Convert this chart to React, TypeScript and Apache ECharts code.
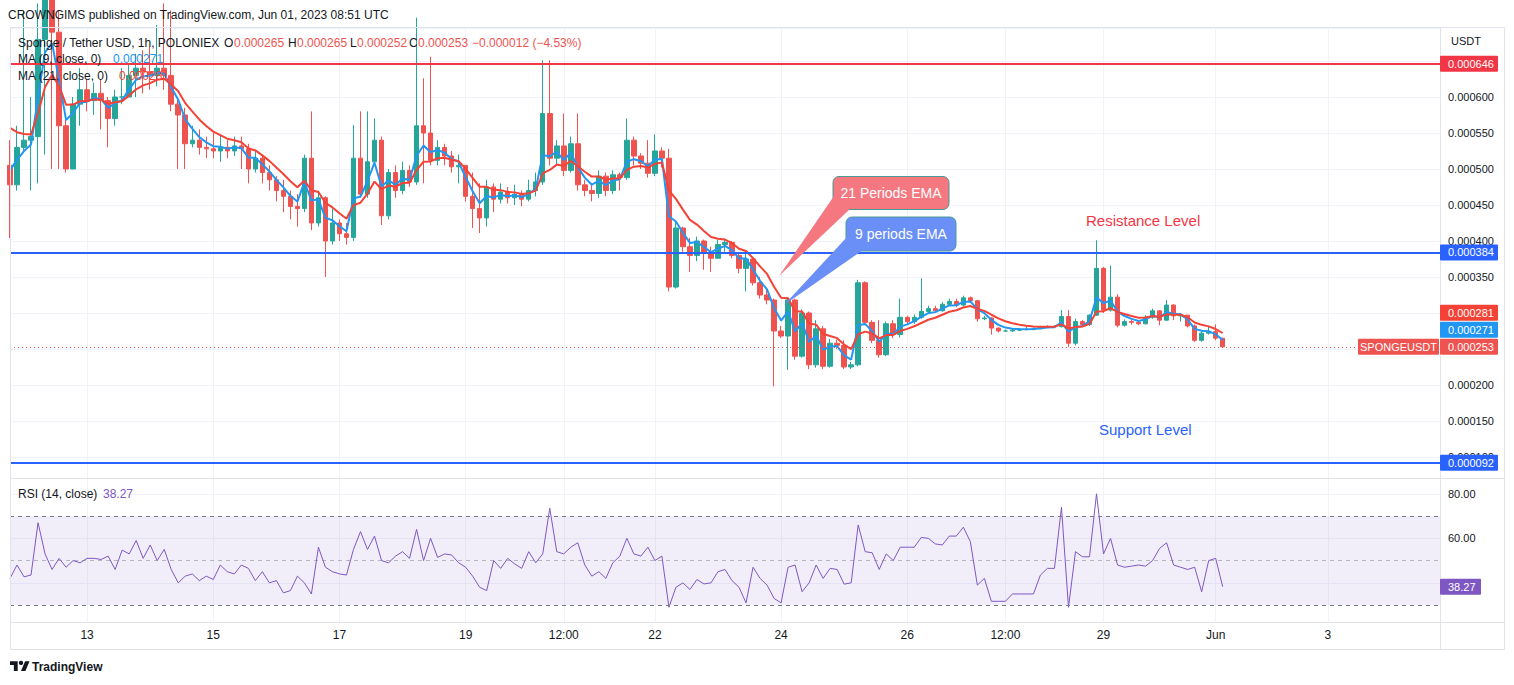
import React, { useEffect, useRef } from 'react';
import * as echarts from 'echarts';

// ---------- data (prices in units of 0.000001 USDT) ----------
const FIRST_OPEN = 505;
const closes = [
  478, 530, 540, 545, 680, 740, 690, 560, 500, 590,
  610, 595, 605, 595, 570, 600, 600, 630, 640, 635,
  630, 640, 630, 590, 575, 535, 540, 530, 528, 525,
  530, 525, 532, 528, 500, 515, 495, 485, 470, 462,
  448, 445, 515, 425, 460, 400, 425, 410, 405, 515,
  465, 510, 540, 435, 495, 470, 498, 482, 560, 550,
  512, 530, 518, 503, 505, 462, 445, 432, 475, 458,
  468, 460, 465, 458, 470, 482, 577, 515, 532, 498,
  535, 478, 470, 466, 490, 470, 492, 488, 540, 518,
  508, 494, 525, 515, 336, 418, 392, 380, 400, 383,
  376, 395, 398, 380, 362, 375, 342, 325, 318, 275,
  268, 318, 240, 300, 228, 278, 226, 258, 255, 225,
  228, 342, 287, 262, 242, 285, 270, 294, 288, 294,
  302, 306, 303, 312, 316, 311, 321, 317, 292, 293,
  279, 275, 275, 276, 277, 277, 278, 280, 281, 281,
  295, 258, 288, 284, 297, 362, 304, 322, 283, 288,
  287, 285, 294, 303, 290, 311, 296, 297, 282, 262,
  272, 274, 265, 253,
];
const highs = [
  540, 560, 720, 600, 730, 760, 750, 720, 570, 600,
  640, 625, 620, 625, 600, 610, 640, 645, 660, 665,
  670, 700, 730, 720, 600, 585, 560, 555, 545, 550,
  548, 540, 545, 545, 535, 525, 520, 505, 490, 485,
  470, 465, 520, 580, 470, 462, 445, 430, 425, 561,
  580, 580, 570, 545, 500, 505, 510, 505, 710, 626,
  656, 540, 535, 525, 520, 505, 495, 480, 485, 480,
  480, 475, 478, 470, 485, 495, 651, 651, 540, 577,
  545, 577, 485, 478, 498, 495, 498, 495, 570, 545,
  522, 540, 548, 530, 528, 427, 420, 404, 406, 402,
  392, 402, 403, 400, 384, 387, 378, 350, 335, 320,
  282, 322, 320, 305, 302, 290, 282, 264, 263, 262,
  232, 346, 344, 290, 290, 288, 290, 320, 296, 298,
  348, 310, 310, 315, 320, 320, 324, 323, 318, 296,
  294, 280, 277, 278, 279, 283, 280, 282, 283, 283,
  304, 304, 292, 290, 298, 401, 364, 366, 326, 291,
  291, 290, 297, 306, 304, 318, 312, 300, 297, 284,
  275, 282, 284, 265,
];
const lows = [
  404, 470, 525, 470, 480, 520, 500, 500, 495, 500,
  560, 580, 575, 555, 530, 560, 590, 600, 600, 605,
  610, 615, 610, 580, 500, 500, 530, 520, 515, 515,
  510, 515, 518, 500, 480, 495, 480, 470, 455, 440,
  430, 420, 440, 415, 420, 350, 395, 400, 395, 400,
  460, 460, 505, 422, 430, 460, 465, 475, 478, 480,
  505, 505, 505, 495, 480, 455, 418, 411, 420, 440,
  452, 452, 450, 448, 455, 462, 478, 505, 505, 490,
  495, 470, 462, 455, 460, 462, 465, 470, 485, 505,
  500, 488, 490, 502, 330, 334, 385, 357, 372, 360,
  357, 375, 385, 376, 355, 330, 338, 320, 312, 198,
  265, 221, 235, 238, 222, 224, 222, 224, 250, 222,
  222, 226, 283, 258, 238, 240, 265, 266, 284, 285,
  292, 299, 300, 302, 310, 308, 309, 314, 288, 290,
  270, 273, 274, 274, 275, 276, 276, 278, 279, 280,
  280, 253, 255, 282, 282, 296, 300, 302, 280, 281,
  284, 283, 284, 292, 283, 289, 290, 288, 280, 260,
  260, 270, 262, 252,
];
const rsi14 = [
  42, 48, 42.7, 43.5, 67, 53, 46, 51, 47, 50,
  49, 51, 51, 50.5, 52, 46, 54.7, 53, 59, 51,
  57, 50, 55, 46, 40, 43, 44, 41, 43, 41.5,
  48, 45, 44, 48, 46.5, 41, 45, 40, 41, 35.5,
  36.5, 43, 40, 35, 56, 47, 45, 44, 43.5, 55,
  63, 55, 61, 50, 49, 52, 54, 51, 64, 50,
  60, 51.4, 53, 52.5, 49, 47, 43, 38, 36.5, 50,
  46.5, 51, 48.5, 46.5, 54, 49, 53, 73.5, 54, 53,
  56, 58, 48, 43, 45, 42, 49, 52, 60, 53,
  52, 56, 50, 52, 29, 38, 40, 37, 41.5, 39.5,
  40, 45, 46, 41, 38, 31, 47, 42, 39, 33,
  31, 47, 48, 36, 40, 48, 42, 46.5, 46, 39.4,
  40, 66, 54, 53.5, 46, 53, 50, 56, 56, 56,
  60.4, 60, 57.5, 57, 61, 61, 65, 58.5, 39, 42,
  31.7, 31.7, 31.7, 35, 35, 35, 35, 43.5, 46.5, 46.5,
  74, 29, 54, 51.7, 51.7, 80, 53, 60, 48, 47,
  47.5, 48, 47.5, 50, 55.5, 58, 48, 47, 46, 47,
  36, 50, 51, 38.27,
];
const timeLabelIndex = [11, 29, 47, 65, 79, 92, 110, 128, 142, 156, 172, 188];
const timeLabelText = ['13', '15', '17', '19', '12:00', '22', '24', '26', '12:00', '29', 'Jun', '3'];
const levelValues = [646, 384, 92]; // resistance (red), resistance (blue), support (blue)
const lastPrice = 253;
const maPeriods = [9, 21];
const maSeeds = [515, 580];
const maLegendValues = [271, 281];
const ohlcLegend = [265, 265, 252, 253];
const changeText = '\u22120.000012 (\u22124.53%)';
const rsiLast = 38.27;
// axis ticks that sit fully under a price tag on the reference and are not drawn
const hiddenPriceTicks = [650, 300, 250];
const hiddenRsiTicks = [40];

// ---------- layout ----------
const SLOTS = 205;
const HOURS_PER_BAR = 2.66;
const LEFT = 10;
const AXIS_X = 1440;
const PRICE_TOP = 28;
const PRICE_H = 450;
const PRICE_MIN = 70.8;
const PRICE_MAX = 695.8;
const RSI_TOP = 478;
const RSI_H = 144;
const RSI_MIN = 22.4;
const RSI_MAX = 87.1;
const FONT = '"Liberation Sans", Arial, sans-serif';
const INK = '#131722';
const UP = '#26a69a';
const DOWN = '#ef5350';

const py = (v: number) => PRICE_TOP + ((PRICE_MAX - v) / (PRICE_MAX - PRICE_MIN)) * PRICE_H;
const ry = (v: number) => RSI_TOP + ((RSI_MAX - v) / (RSI_MAX - RSI_MIN)) * RSI_H;
const fmtP = (v: number) => (v / 1e6).toFixed(6);

function ema(values: number[], period: number, seed: number) {
  const a = 1 - Math.pow(1 - 2 / (period + 1), HOURS_PER_BAR);
  let e = seed;
  return values.map((v) => (e = e + a * (v - e)));
}

function txt(x: number, y: number, s: string, color = INK, size = 12, extra: any = {}, z = 120) {
  return {
    type: 'text',
    x,
    y,
    z,
    silent: true,
    style: {
      text: s,
      fill: color,
      font: `${extra.weight || 'normal'} ${size}px ${FONT}`,
      textAlign: extra.align || 'left',
      align: extra.align || 'left',
      textVerticalAlign: 'middle',
      verticalAlign: 'middle',
    },
  };
}

function tag(y: number, label: string, bg: string, x = AXIS_X, w = 58) {
  return [
    { type: 'rect', z: 115, silent: true, shape: { x, y: y - 8, width: w, height: 16, r: 1 }, style: { fill: bg } },
    txt(x + 8, y, label, '#ffffff', 11, {}, 116),
  ];
}

export default function App() {
  const ref = useRef<HTMLDivElement>(null);

  useEffect(() => {
    document.body.style.margin = '0';
    const el = ref.current as HTMLDivElement;
    echarts.graphic.registerShape(
      'tvLogo',
      echarts.graphic.extendPath('M14 22H7V11H0V4h14v18zM28 22h-8l7.5-18h8L28 22z', {}) as any
    );
    const chart = echarts.init(el, null, { renderer: 'svg' });

    const cats = Array.from({ length: SLOTS }, (_, i) => String(i));
    const candles = closes.map((c, i) => {
      const o = i === 0 ? FIRST_OPEN : closes[i - 1];
      return [o, c, Math.min(lows[i], o, c), Math.max(highs[i], o, c)];
    });
    const ma9 = ema(closes, maPeriods[0], maSeeds[0]);
    const ma21 = ema(closes, maPeriods[1], maSeeds[1]);
    const gridSet = new Set(timeLabelIndex);
    const labelMap: Record<string, string> = {};
    timeLabelIndex.forEach((idx, k) => (labelMap[String(idx)] = timeLabelText[k]));

    // price tags on the right axis, stacked like TradingView
    const yLast = py(lastPrice);
    const y271 = Math.min(py(maLegendValues[0]), yLast - 17);
    const y281 = Math.min(py(maLegendValues[1]), y271 - 17);

    const graphics: any[] = [
      txt(8, 15, 'CROWNGIMS published on TradingView.com, Jun 01, 2023 08:51 UTC', INK, 12),
      // frame
      { type: 'rect', z: 90, silent: true, shape: { x: 10.5, y: 27.5, width: 1494, height: 622 }, style: { fill: 'none', stroke: '#e0e3eb', lineWidth: 1 } },
      { type: 'line', z: 90, silent: true, shape: { x1: AXIS_X + 0.5, y1: 27.5, x2: AXIS_X + 0.5, y2: 649.5 }, style: { stroke: '#e0e3eb', lineWidth: 1 } },
      { type: 'line', z: 90, silent: true, shape: { x1: 10, y1: 478.5, x2: 1504, y2: 478.5 }, style: { stroke: '#e0e3eb', lineWidth: 1 } },
      { type: 'line', z: 90, silent: true, shape: { x1: 10, y1: 622.5, x2: 1504, y2: 622.5 }, style: { stroke: '#e0e3eb', lineWidth: 1 } },
      // legend
      txt(18, 42.5, 'Sponge / Tether USD, 1h, POLONIEX', INK, 12),
      txt(224, 42.5, 'O', INK, 12),
      txt(234, 42.5, fmtP(ohlcLegend[0]), DOWN, 12),
      txt(288, 42.5, 'H', INK, 12),
      txt(297, 42.5, fmtP(ohlcLegend[1]), DOWN, 12),
      txt(350, 42.5, 'L', INK, 12),
      txt(357, 42.5, fmtP(ohlcLegend[2]), DOWN, 12),
      txt(409, 42.5, 'C', INK, 12),
      txt(418, 42.5, fmtP(ohlcLegend[3]), DOWN, 12),
      txt(472, 42.5, changeText, DOWN, 12),
      txt(18, 59, 'MA (9, close, 0)', INK, 12),
      txt(113, 59, fmtP(maLegendValues[0]), '#2196f3', 12),
      txt(18, 76, 'MA (21, close, 0)', INK, 12),
      txt(119, 76, fmtP(maLegendValues[1]), '#f44336', 12),
      txt(1451, 41, 'USDT', INK, 11),
      // axis tags
      ...tag(py(levelValues[0]), fmtP(levelValues[0]), '#f23645'),
      ...tag(py(levelValues[1]), fmtP(levelValues[1]), '#2962ff'),
      ...tag(py(levelValues[2]), fmtP(levelValues[2]), '#2962ff'),
      ...tag(y281, fmtP(maLegendValues[1]), '#f44336'),
      ...tag(y271, fmtP(maLegendValues[0]), '#2196f3'),
      ...tag(yLast, fmtP(lastPrice), DOWN),
      { type: 'rect', z: 115, silent: true, shape: { x: 1358, y: yLast - 8, width: 81, height: 16, r: 1 }, style: { fill: DOWN } },
      txt(1398.5, yLast, 'SPONGEUSDT', '#ffffff', 11, { align: 'center' }, 116),
      // RSI legend and tag
      txt(18, 494, 'RSI (14, close)', INK, 12),
      txt(103, 494, rsiLast.toFixed(2), '#7e57c2', 12),
      { type: 'rect', z: 115, silent: true, shape: { x: AXIS_X, y: ry(rsiLast) - 8, width: 41, height: 16, r: 1 }, style: { fill: '#7e57c2' } },
      txt(AXIS_X + 8, ry(rsiLast), rsiLast.toFixed(2), '#ffffff', 11, {}, 116),
      // callouts
      { type: 'rect', z: 130, silent: true, shape: { x: 833, y: 176.5, width: 116, height: 33, r: 6 }, style: { fill: '#f5777f', stroke: '#4a9a94', lineWidth: 1 } },
      { type: 'polygon', z: 131, silent: true, shape: { points: [[834, 196], [850, 209], [779, 276]] }, style: { fill: '#f5777f' } },
      txt(891, 193, '21 Periods EMA', '#ffffff', 14, { align: 'center' }, 132),
      { type: 'rect', z: 133, silent: true, shape: { x: 846, y: 217, width: 110, height: 34, r: 6 }, style: { fill: '#6a8ff7', stroke: '#4a9a94', lineWidth: 1 } },
      { type: 'polygon', z: 134, silent: true, shape: { points: [[847, 237], [863, 250], [784, 305]] }, style: { fill: '#6a8ff7' } },
      txt(901, 234, '9 periods EMA', '#ffffff', 14, { align: 'center' }, 135),
      txt(1086, 220.5, 'Resistance Level', '#f23645', 15),
      txt(1099, 429.5, 'Support Level', '#2962ff', 15),
      // TradingView logo
      { type: 'tvLogo', z: 120, silent: true, x: 10, y: 659, scaleX: 0.55, scaleY: 0.55, style: { fill: INK } },
      { type: 'circle', z: 120, silent: true, shape: { cx: 21, cy: 662.9, r: 2.2 }, style: { fill: INK } },
      txt(32, 667, 'TradingView', INK, 12, { weight: 'bold' }),
    ];

    const option: any = {
      animation: false,
      backgroundColor: '#ffffff',
      textStyle: { fontFamily: FONT },
      grid: [
        { left: LEFT, right: 1514 - AXIS_X, top: PRICE_TOP, height: PRICE_H, containLabel: false },
        { left: LEFT, right: 1514 - AXIS_X, top: RSI_TOP, height: RSI_H, containLabel: false },
      ],
      xAxis: [
        {
          type: 'category', gridIndex: 0, data: cats, boundaryGap: false,
          axisLine: { show: false }, axisTick: { show: false }, axisLabel: { show: false },
          splitLine: { show: true, interval: (i: number) => gridSet.has(i), lineStyle: { color: '#f0f3fa', width: 1 } },
        },
        {
          type: 'category', gridIndex: 1, data: cats, boundaryGap: false,
          axisLine: { show: false }, axisTick: { show: false },
          axisLabel: {
            show: true, interval: (i: number) => gridSet.has(i),
            formatter: (v: string) => labelMap[v] || '',
            color: INK, fontSize: 12, fontFamily: FONT, margin: 7,
          },
          splitLine: { show: true, interval: (i: number) => gridSet.has(i), lineStyle: { color: '#f0f3fa', width: 1 } },
        },
      ],
      yAxis: [
        {
          type: 'value', gridIndex: 0, position: 'right', min: PRICE_MIN, max: PRICE_MAX, splitNumber: 13,
          axisLine: { show: false }, axisTick: { show: false },
          axisLabel: {
            color: INK, fontSize: 11, fontFamily: FONT, margin: 8, showMinLabel: false, showMaxLabel: false,
            formatter: (v: number) => (hiddenPriceTicks.some((h) => Math.abs(h - v) < 0.01) ? '' : fmtP(v)),
          },
          splitLine: { show: true, lineStyle: { color: '#f0f3fa', width: 1 } },
        },
        {
          type: 'value', gridIndex: 1, position: 'right', min: RSI_MIN, max: RSI_MAX, splitNumber: 3,
          axisLine: { show: false }, axisTick: { show: false },
          axisLabel: {
            color: INK, fontSize: 11, fontFamily: FONT, margin: 8, showMinLabel: false, showMaxLabel: false,
            formatter: (v: number) => (hiddenRsiTicks.some((h) => Math.abs(h - v) < 0.01) ? '' : v.toFixed(2)),
          },
          splitLine: { show: true, lineStyle: { color: '#f0f3fa', width: 1 } },
        },
      ],
      series: [
        {
          type: 'candlestick', xAxisIndex: 0, yAxisIndex: 0, data: candles, barWidth: 5, clip: true,
          itemStyle: { color: UP, color0: DOWN, borderColor: UP, borderColor0: DOWN, borderWidth: 1 },
          markLine: {
            silent: true, symbol: ['none', 'none'], label: { show: false }, animation: false,
            data: [
              { yAxis: levelValues[0], lineStyle: { color: '#f23645', width: 2, type: 'solid' } },
              { yAxis: levelValues[1], lineStyle: { color: '#2962ff', width: 2, type: 'solid' } },
              { yAxis: levelValues[2], lineStyle: { color: '#2962ff', width: 2, type: 'solid' } },
              { yAxis: lastPrice, lineStyle: { color: DOWN, width: 1, type: [1, 3] } },
            ],
          },
        },
        {
          type: 'line', xAxisIndex: 0, yAxisIndex: 0, data: ma9, symbol: 'none', z: 3, clip: true,
          lineStyle: { color: '#2196f3', width: 2 },
        },
        {
          type: 'line', xAxisIndex: 0, yAxisIndex: 0, data: ma21, symbol: 'none', z: 3, clip: true,
          lineStyle: { color: '#f44336', width: 2 },
        },
        {
          type: 'line', xAxisIndex: 1, yAxisIndex: 1, data: rsi14, symbol: 'none', z: 4,
          lineStyle: { color: '#7e57c2', width: 1 },
          markArea: {
            silent: true, itemStyle: { color: 'rgba(126,87,194,0.1)' },
            data: [[{ yAxis: 30 }, { yAxis: 70 }]],
          },
          markLine: {
            silent: true, symbol: ['none', 'none'], label: { show: false }, animation: false,
            data: [
              { yAxis: 70, lineStyle: { color: '#787b86', width: 1, type: [4, 4] } },
              { yAxis: 50, lineStyle: { color: 'rgba(120,123,134,0.5)', width: 1, type: [4, 4] } },
              { yAxis: 30, lineStyle: { color: '#787b86', width: 1, type: [4, 4] } },
            ],
          },
        },
      ],
      graphic: graphics,
    };

    chart.setOption(option);
    return () => chart.dispose();
  }, []);

  return (
    <div
      ref={ref}
      style={{ position: 'fixed', left: 0, top: 0, width: 1514, height: 685, background: '#ffffff' }}
    />
  );
}
